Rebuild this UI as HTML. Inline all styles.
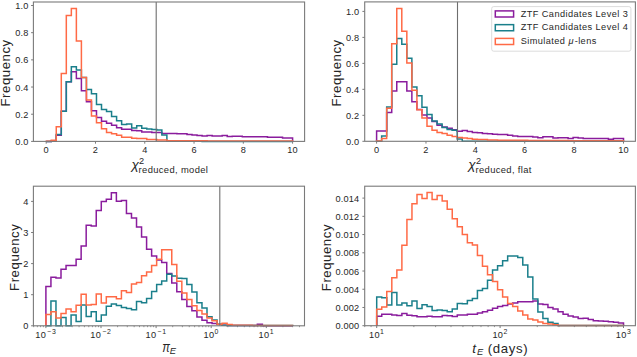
<!DOCTYPE html><html><head><meta charset="utf-8"><style>html,body{margin:0;padding:0;background:#fff;width:637px;height:357px;overflow:hidden}</style></head><body><svg width="637" height="357" viewBox="0 0 637 357" style="display:block;font-family:'Liberation Sans', sans-serif"><rect width="637" height="357" fill="#ffffff"/><path d="M46.20 141.40L46.20 141.40L51.23 141.40L51.23 141.20L56.26 141.20L56.26 135.20L61.29 135.20L61.29 111.30L66.31 111.30L66.31 81.80L71.34 81.80L71.34 71.80L76.37 71.80L76.37 78.50L81.40 78.50L81.40 90.70L86.43 90.70L86.43 101.80L91.46 101.80L91.46 110.80L96.49 110.80L96.49 117.40L101.51 117.40L101.51 121.20L106.54 121.20L106.54 123.30L111.57 123.30L111.57 125.20L116.60 125.20L116.60 127.80L121.63 127.80L121.63 129.30L126.66 129.30L126.66 129.30L131.69 129.30L131.69 130.60L136.71 130.60L136.71 130.80L141.74 130.80L141.74 131.90L146.77 131.90L146.77 131.90L151.80 131.90L151.80 132.50L156.83 132.50L156.83 132.50L161.86 132.50L161.86 133.60L166.89 133.60L166.89 133.40L171.91 133.40L171.91 133.40L176.94 133.40L176.94 133.70L181.97 133.70L181.97 133.70L187.00 133.70L187.00 134.40L192.03 134.40L192.03 134.90L197.06 134.90L197.06 135.40L202.09 135.40L202.09 136.10L207.11 136.10L207.11 135.40L212.14 135.40L212.14 135.90L217.17 135.90L217.17 135.90L222.20 135.90L222.20 135.40L227.23 135.40L227.23 136.40L232.26 136.40L232.26 136.20L237.29 136.20L237.29 136.20L242.31 136.20L242.31 136.80L247.34 136.80L247.34 136.80L252.37 136.80L252.37 136.80L257.40 136.80L257.40 136.80L262.43 136.80L262.43 136.80L267.46 136.80L267.46 137.30L272.49 137.30L272.49 137.30L277.51 137.30L277.51 137.30L282.54 137.30L282.54 137.90L287.57 137.90L287.57 137.90L292.60 137.90L292.60 141.40" fill="none" stroke="#8a1c9d" stroke-width="1.50" stroke-linejoin="miter"/><path d="M46.20 141.40L46.20 141.40L51.23 141.40L51.23 141.00L56.26 141.00L56.26 134.50L61.29 134.50L61.29 111.30L66.31 111.30L66.31 81.80L71.34 81.80L71.34 66.70L76.37 66.70L76.37 70.00L81.40 70.00L81.40 77.50L86.43 77.50L86.43 89.60L91.46 89.60L91.46 93.70L96.49 93.70L96.49 104.50L101.51 104.50L101.51 109.50L106.54 109.50L106.54 111.50L111.57 111.50L111.57 116.40L116.60 116.40L116.60 120.80L121.63 120.80L121.63 124.60L126.66 124.60L126.66 124.00L131.69 124.00L131.69 128.00L136.71 128.00L136.71 125.70L141.74 125.70L141.74 128.30L146.77 128.30L146.77 129.10L151.80 129.10L151.80 129.60L156.83 129.60L156.83 129.90L161.86 129.90L161.86 135.00L166.89 135.00L166.89 141.10L171.91 141.10L171.91 141.10L176.94 141.10L176.94 141.10L181.97 141.10L181.97 141.10L187.00 141.10L187.00 141.10L192.03 141.10L192.03 141.10L197.06 141.10L197.06 141.10L202.09 141.10L202.09 141.40L207.11 141.40L207.11 141.40L212.14 141.40L212.14 141.40L217.17 141.40L217.17 141.40L222.20 141.40L222.20 141.40L227.23 141.40L227.23 141.40L232.26 141.40L232.26 141.40L237.29 141.40L237.29 141.40L242.31 141.40L242.31 141.40L247.34 141.40L247.34 141.40L252.37 141.40L252.37 141.40L257.40 141.40L257.40 141.40L262.43 141.40L262.43 141.40L267.46 141.40L267.46 141.40L272.49 141.40L272.49 141.40L277.51 141.40L277.51 141.40L282.54 141.40L282.54 141.40L287.57 141.40L287.57 141.40L292.60 141.40L292.60 141.40" fill="none" stroke="#1a7f8b" stroke-width="1.50" stroke-linejoin="miter"/><path d="M46.20 141.40L46.20 141.20L51.23 141.20L51.23 140.30L56.26 140.30L56.26 126.80L61.29 126.80L61.29 73.60L66.31 73.60L66.31 15.50L71.34 15.50L71.34 8.40L76.37 8.40L76.37 41.10L81.40 41.10L81.40 77.50L86.43 77.50L86.43 99.90L91.46 99.90L91.46 115.90L96.49 115.90L96.49 122.70L101.51 122.70L101.51 128.80L106.54 128.80L106.54 132.60L111.57 132.60L111.57 133.80L116.60 133.80L116.60 135.30L121.63 135.30L121.63 137.20L126.66 137.20L126.66 137.20L131.69 137.20L131.69 138.20L136.71 138.20L136.71 138.60L141.74 138.60L141.74 138.60L146.77 138.60L146.77 139.50L151.80 139.50L151.80 139.50L156.83 139.50L156.83 140.00L161.86 140.00L161.86 140.00L166.89 140.00L166.89 140.70L171.91 140.70L171.91 140.70L176.94 140.70L176.94 140.70L181.97 140.70L181.97 140.70L187.00 140.70L187.00 140.70L192.03 140.70L192.03 140.70L197.06 140.70L197.06 140.70L202.09 140.70L202.09 140.70L207.11 140.70L207.11 141.00L212.14 141.00L212.14 141.00L217.17 141.00L217.17 141.00L222.20 141.00L222.20 141.00L227.23 141.00L227.23 141.00L232.26 141.00L232.26 141.00L237.29 141.00L237.29 141.00L242.31 141.00L242.31 141.00L247.34 141.00L247.34 141.00L252.37 141.00L252.37 141.10L257.40 141.10L257.40 141.10L262.43 141.10L262.43 141.10L267.46 141.10L267.46 141.10L272.49 141.10L272.49 141.10L277.51 141.10L277.51 141.10L282.54 141.10L282.54 141.10L287.57 141.10L287.57 141.10L292.60 141.10L292.60 141.40" fill="none" stroke="#ff6a46" stroke-width="1.50" stroke-linejoin="miter"/><line x1="156.20" y1="2.00" x2="156.20" y2="141.40" stroke="#6e6e6e" stroke-width="1.1"/><rect x="33.40" y="2.00" width="271.20" height="139.40" fill="none" stroke="#7a7a7a" stroke-width="1.1"/><line x1="46.20" y1="141.40" x2="46.20" y2="143.70" stroke="#7a7a7a" stroke-width="1.00"/><text x="46.20" y="152.80" font-size="9.20" text-anchor="middle" letter-spacing="0.15" fill="#262626" >0</text><line x1="95.48" y1="141.40" x2="95.48" y2="143.70" stroke="#7a7a7a" stroke-width="1.00"/><text x="95.48" y="152.80" font-size="9.20" text-anchor="middle" letter-spacing="0.15" fill="#262626" >2</text><line x1="144.76" y1="141.40" x2="144.76" y2="143.70" stroke="#7a7a7a" stroke-width="1.00"/><text x="144.76" y="152.80" font-size="9.20" text-anchor="middle" letter-spacing="0.15" fill="#262626" >4</text><line x1="194.04" y1="141.40" x2="194.04" y2="143.70" stroke="#7a7a7a" stroke-width="1.00"/><text x="194.04" y="152.80" font-size="9.20" text-anchor="middle" letter-spacing="0.15" fill="#262626" >6</text><line x1="243.32" y1="141.40" x2="243.32" y2="143.70" stroke="#7a7a7a" stroke-width="1.00"/><text x="243.32" y="152.80" font-size="9.20" text-anchor="middle" letter-spacing="0.15" fill="#262626" >8</text><line x1="292.60" y1="141.40" x2="292.60" y2="143.70" stroke="#7a7a7a" stroke-width="1.00"/><text x="292.60" y="152.80" font-size="9.20" text-anchor="middle" letter-spacing="0.15" fill="#262626" >10</text><line x1="31.10" y1="141.40" x2="33.40" y2="141.40" stroke="#7a7a7a" stroke-width="1.0"/><text x="28.60" y="145.00" font-size="9.20" text-anchor="end" letter-spacing="0.15" fill="#262626" >0.0</text><line x1="31.10" y1="114.22" x2="33.40" y2="114.22" stroke="#7a7a7a" stroke-width="1.0"/><text x="28.60" y="117.82" font-size="9.20" text-anchor="end" letter-spacing="0.15" fill="#262626" >0.2</text><line x1="31.10" y1="87.04" x2="33.40" y2="87.04" stroke="#7a7a7a" stroke-width="1.0"/><text x="28.60" y="90.64" font-size="9.20" text-anchor="end" letter-spacing="0.15" fill="#262626" >0.4</text><line x1="31.10" y1="59.86" x2="33.40" y2="59.86" stroke="#7a7a7a" stroke-width="1.0"/><text x="28.60" y="63.46" font-size="9.20" text-anchor="end" letter-spacing="0.15" fill="#262626" >0.6</text><line x1="31.10" y1="32.68" x2="33.40" y2="32.68" stroke="#7a7a7a" stroke-width="1.0"/><text x="28.60" y="36.28" font-size="9.20" text-anchor="end" letter-spacing="0.15" fill="#262626" >0.8</text><line x1="31.10" y1="5.50" x2="33.40" y2="5.50" stroke="#7a7a7a" stroke-width="1.0"/><text x="28.60" y="9.10" font-size="9.20" text-anchor="end" letter-spacing="0.15" fill="#262626" >1.0</text><path d="M376.60 141.30L376.60 130.90L381.64 130.90L381.64 130.90L386.68 130.90L386.68 112.60L391.72 112.60L391.72 91.10L396.76 91.10L396.76 81.80L401.79 81.80L401.79 81.70L406.83 81.70L406.83 91.00L411.87 91.00L411.87 101.80L416.91 101.80L416.91 109.40L421.95 109.40L421.95 115.00L426.99 115.00L426.99 117.90L432.03 117.90L432.03 121.50L437.07 121.50L437.07 125.20L442.10 125.20L442.10 126.90L447.14 126.90L447.14 128.20L452.18 128.20L452.18 129.70L457.22 129.70L457.22 131.20L462.26 131.20L462.26 130.60L467.30 130.60L467.30 131.40L472.34 131.40L472.34 132.40L477.38 132.40L477.38 132.70L482.41 132.70L482.41 133.50L487.45 133.50L487.45 133.70L492.49 133.70L492.49 134.30L497.53 134.30L497.53 134.60L502.57 134.60L502.57 134.60L507.61 134.60L507.61 135.30L512.65 135.30L512.65 135.90L517.69 135.90L517.69 136.40L522.72 136.40L522.72 136.40L527.76 136.40L527.76 136.40L532.80 136.40L532.80 137.00L537.84 137.00L537.84 137.70L542.88 137.70L542.88 136.80L547.92 136.80L547.92 136.80L552.96 136.80L552.96 137.90L558.00 137.90L558.00 137.70L563.03 137.70L563.03 137.70L568.07 137.70L568.07 138.40L573.11 138.40L573.11 137.50L578.15 137.50L578.15 138.10L583.19 138.10L583.19 138.60L588.23 138.60L588.23 138.60L593.27 138.60L593.27 138.60L598.31 138.60L598.31 138.60L603.34 138.60L603.34 138.60L608.38 138.60L608.38 139.20L613.42 139.20L613.42 138.40L618.46 138.40L618.46 138.60L623.50 138.60L623.50 141.30" fill="none" stroke="#8a1c9d" stroke-width="1.50" stroke-linejoin="miter"/><path d="M376.60 141.30L376.60 141.20L381.64 141.20L381.64 136.00L386.68 136.00L386.68 106.90L391.72 106.90L391.72 64.30L396.76 64.30L396.76 38.40L401.79 38.40L401.79 44.30L406.83 44.30L406.83 58.20L411.87 58.20L411.87 87.00L416.91 87.00L416.91 95.70L421.95 95.70L421.95 107.20L426.99 107.20L426.99 114.60L432.03 114.60L432.03 121.00L437.07 121.00L437.07 124.10L442.10 124.10L442.10 127.50L447.14 127.50L447.14 129.40L452.18 129.40L452.18 130.20L457.22 130.20L457.22 138.90L462.26 138.90L462.26 141.30L467.30 141.30L467.30 141.30L472.34 141.30L472.34 141.30L477.38 141.30L477.38 141.30L482.41 141.30L482.41 141.30L487.45 141.30L487.45 141.30L492.49 141.30L492.49 141.30L497.53 141.30L497.53 141.30L502.57 141.30L502.57 141.30L507.61 141.30L507.61 141.30L512.65 141.30L512.65 141.30L517.69 141.30L517.69 141.30L522.72 141.30L522.72 141.30L527.76 141.30L527.76 141.30L532.80 141.30L532.80 141.30L537.84 141.30L537.84 141.30L542.88 141.30L542.88 141.30L547.92 141.30L547.92 141.30L552.96 141.30L552.96 141.30L558.00 141.30L558.00 141.30L563.03 141.30L563.03 141.30L568.07 141.30L568.07 141.30L573.11 141.30L573.11 141.30L578.15 141.30L578.15 141.30L583.19 141.30L583.19 141.30L588.23 141.30L588.23 141.30L593.27 141.30L593.27 141.30L598.31 141.30L598.31 141.30L603.34 141.30L603.34 141.30L608.38 141.30L608.38 141.30L613.42 141.30L613.42 141.30L618.46 141.30L618.46 141.30L623.50 141.30L623.50 141.30" fill="none" stroke="#1a7f8b" stroke-width="1.50" stroke-linejoin="miter"/><path d="M376.60 141.30L376.60 141.00L381.64 141.00L381.64 138.50L386.68 138.50L386.68 108.20L391.72 108.20L391.72 43.70L396.76 43.70L396.76 8.40L401.79 8.40L401.79 31.20L406.83 31.20L406.83 63.00L411.87 63.00L411.87 90.30L416.91 90.30L416.91 109.70L421.95 109.70L421.95 118.00L426.99 118.00L426.99 126.30L432.03 126.30L432.03 130.30L437.07 130.30L437.07 132.50L442.10 132.50L442.10 133.60L447.14 133.60L447.14 135.30L452.18 135.30L452.18 136.40L457.22 136.40L457.22 137.40L462.26 137.40L462.26 137.90L467.30 137.90L467.30 138.60L472.34 138.60L472.34 139.20L477.38 139.20L477.38 139.40L482.41 139.40L482.41 139.60L487.45 139.60L487.45 139.90L492.49 139.90L492.49 139.90L497.53 139.90L497.53 140.30L502.57 140.30L502.57 140.30L507.61 140.30L507.61 140.30L512.65 140.30L512.65 140.30L517.69 140.30L517.69 140.30L522.72 140.30L522.72 140.30L527.76 140.30L527.76 140.60L532.80 140.60L532.80 140.60L537.84 140.60L537.84 140.60L542.88 140.60L542.88 140.60L547.92 140.60L547.92 140.60L552.96 140.60L552.96 140.60L558.00 140.60L558.00 140.60L563.03 140.60L563.03 140.60L568.07 140.60L568.07 140.80L573.11 140.80L573.11 140.80L578.15 140.80L578.15 140.80L583.19 140.80L583.19 140.80L588.23 140.80L588.23 140.80L593.27 140.80L593.27 140.80L598.31 140.80L598.31 140.80L603.34 140.80L603.34 140.80L608.38 140.80L608.38 140.80L613.42 140.80L613.42 140.80L618.46 140.80L618.46 140.80L623.50 140.80L623.50 141.30" fill="none" stroke="#ff6a46" stroke-width="1.50" stroke-linejoin="miter"/><line x1="457.50" y1="1.90" x2="457.50" y2="141.30" stroke="#6e6e6e" stroke-width="1.1"/><rect x="364.70" y="1.90" width="270.70" height="139.40" fill="none" stroke="#7a7a7a" stroke-width="1.1"/><line x1="376.60" y1="141.30" x2="376.60" y2="143.60" stroke="#7a7a7a" stroke-width="1.00"/><text x="376.60" y="152.70" font-size="9.20" text-anchor="middle" letter-spacing="0.15" fill="#262626" >0</text><line x1="425.98" y1="141.30" x2="425.98" y2="143.60" stroke="#7a7a7a" stroke-width="1.00"/><text x="425.98" y="152.70" font-size="9.20" text-anchor="middle" letter-spacing="0.15" fill="#262626" >2</text><line x1="475.36" y1="141.30" x2="475.36" y2="143.60" stroke="#7a7a7a" stroke-width="1.00"/><text x="475.36" y="152.70" font-size="9.20" text-anchor="middle" letter-spacing="0.15" fill="#262626" >4</text><line x1="524.74" y1="141.30" x2="524.74" y2="143.60" stroke="#7a7a7a" stroke-width="1.00"/><text x="524.74" y="152.70" font-size="9.20" text-anchor="middle" letter-spacing="0.15" fill="#262626" >6</text><line x1="574.12" y1="141.30" x2="574.12" y2="143.60" stroke="#7a7a7a" stroke-width="1.00"/><text x="574.12" y="152.70" font-size="9.20" text-anchor="middle" letter-spacing="0.15" fill="#262626" >8</text><line x1="623.50" y1="141.30" x2="623.50" y2="143.60" stroke="#7a7a7a" stroke-width="1.00"/><text x="623.50" y="152.70" font-size="9.20" text-anchor="middle" letter-spacing="0.15" fill="#262626" >10</text><line x1="362.40" y1="141.30" x2="364.70" y2="141.30" stroke="#7a7a7a" stroke-width="1.0"/><text x="359.20" y="144.90" font-size="9.20" text-anchor="end" letter-spacing="0.15" fill="#262626" >0.0</text><line x1="362.40" y1="115.32" x2="364.70" y2="115.32" stroke="#7a7a7a" stroke-width="1.0"/><text x="359.20" y="118.92" font-size="9.20" text-anchor="end" letter-spacing="0.15" fill="#262626" >0.2</text><line x1="362.40" y1="89.34" x2="364.70" y2="89.34" stroke="#7a7a7a" stroke-width="1.0"/><text x="359.20" y="92.94" font-size="9.20" text-anchor="end" letter-spacing="0.15" fill="#262626" >0.4</text><line x1="362.40" y1="63.36" x2="364.70" y2="63.36" stroke="#7a7a7a" stroke-width="1.0"/><text x="359.20" y="66.96" font-size="9.20" text-anchor="end" letter-spacing="0.15" fill="#262626" >0.6</text><line x1="362.40" y1="37.38" x2="364.70" y2="37.38" stroke="#7a7a7a" stroke-width="1.0"/><text x="359.20" y="40.98" font-size="9.20" text-anchor="end" letter-spacing="0.15" fill="#262626" >0.8</text><line x1="362.40" y1="11.40" x2="364.70" y2="11.40" stroke="#7a7a7a" stroke-width="1.0"/><text x="359.20" y="15.00" font-size="9.20" text-anchor="end" letter-spacing="0.15" fill="#262626" >1.0</text><path d="M45.90 325.80L45.90 286.60L50.93 286.60L50.93 277.20L55.97 277.20L55.97 278.00L61.00 278.00L61.00 269.30L66.04 269.30L66.04 265.60L71.07 265.60L71.07 265.60L76.11 265.60L76.11 259.30L81.14 259.30L81.14 246.00L86.18 246.00L86.18 225.20L91.21 225.20L91.21 225.90L96.24 225.90L96.24 210.50L101.28 210.50L101.28 201.50L106.31 201.50L106.31 199.20L111.35 199.20L111.35 192.80L116.38 192.80L116.38 201.20L121.42 201.20L121.42 200.50L126.45 200.50L126.45 213.60L131.49 213.60L131.49 218.00L136.52 218.00L136.52 227.00L141.56 227.00L141.56 236.90L146.59 236.90L146.59 249.20L151.62 249.20L151.62 255.90L156.66 255.90L156.66 260.00L161.69 260.00L161.69 262.40L166.73 262.40L166.73 273.60L171.76 273.60L171.76 282.90L176.80 282.90L176.80 291.80L181.83 291.80L181.83 299.40L186.87 299.40L186.87 306.60L191.90 306.60L191.90 310.70L196.93 310.70L196.93 317.10L201.97 317.10L201.97 320.30L207.00 320.30L207.00 322.70L212.04 322.70L212.04 323.50L217.07 323.50L217.07 324.60L222.11 324.60L222.11 325.20L227.14 325.20L227.14 325.60L232.18 325.60L232.18 325.60L237.21 325.60L237.21 325.60L242.24 325.60L242.24 325.60L247.28 325.60L247.28 325.60L252.31 325.60L252.31 325.60L257.35 325.60L257.35 324.30L262.38 324.30L262.38 325.70L267.42 325.70L267.42 325.70L272.45 325.70L272.45 325.70L277.49 325.70L277.49 325.70L282.52 325.70L282.52 325.70L287.55 325.70L287.55 325.70L292.59 325.70L292.59 325.80" fill="none" stroke="#8a1c9d" stroke-width="1.50" stroke-linejoin="miter"/><path d="M45.90 325.80L45.90 325.80L50.93 325.80L50.93 300.90L55.97 300.90L55.97 325.80L61.00 325.80L61.00 317.50L66.04 317.50L66.04 325.80L71.07 325.80L71.07 315.00L76.11 315.00L76.11 321.40L81.14 321.40L81.14 304.90L86.18 304.90L86.18 316.60L91.21 316.60L91.21 311.80L96.24 311.80L96.24 321.20L101.28 321.20L101.28 315.00L106.31 315.00L106.31 306.20L111.35 306.20L111.35 303.90L116.38 303.90L116.38 305.50L121.42 305.50L121.42 307.60L126.45 307.60L126.45 308.40L131.49 308.40L131.49 309.80L136.52 309.80L136.52 301.60L141.56 301.60L141.56 302.80L146.59 302.80L146.59 298.60L151.62 298.60L151.62 291.60L156.66 291.60L156.66 284.60L161.69 284.60L161.69 280.90L166.73 280.90L166.73 274.20L171.76 274.20L171.76 276.00L176.80 276.00L176.80 278.20L181.83 278.20L181.83 278.40L186.87 278.40L186.87 284.60L191.90 284.60L191.90 292.00L196.93 292.00L196.93 302.70L201.97 302.70L201.97 307.90L207.00 307.90L207.00 316.80L212.04 316.80L212.04 320.00L217.07 320.00L217.07 324.30L222.11 324.30L222.11 325.30L227.14 325.30L227.14 325.60L232.18 325.60L232.18 325.60L237.21 325.60L237.21 325.60L242.24 325.60L242.24 325.60L247.28 325.60L247.28 325.60L252.31 325.60L252.31 325.60L257.35 325.60L257.35 325.60L262.38 325.60L262.38 325.60L267.42 325.60L267.42 325.60L272.45 325.60L272.45 325.60L277.49 325.60L277.49 325.60L282.52 325.60L282.52 325.60L287.55 325.60L287.55 325.60L292.59 325.60L292.59 325.80" fill="none" stroke="#1a7f8b" stroke-width="1.50" stroke-linejoin="miter"/><path d="M45.90 325.80L45.90 314.40L50.93 314.40L50.93 311.80L55.97 311.80L55.97 318.00L61.00 318.00L61.00 313.50L66.04 313.50L66.04 309.00L71.07 309.00L71.07 311.80L76.11 311.80L76.11 305.30L81.14 305.30L81.14 294.30L86.18 294.30L86.18 304.90L91.21 304.90L91.21 304.40L96.24 304.40L96.24 294.00L101.28 294.00L101.28 302.90L106.31 302.90L106.31 296.80L111.35 296.80L111.35 296.80L116.38 296.80L116.38 298.80L121.42 298.80L121.42 290.80L126.45 290.80L126.45 292.50L131.49 292.50L131.49 283.90L136.52 283.90L136.52 282.50L141.56 282.50L141.56 275.70L146.59 275.70L146.59 271.90L151.62 271.90L151.62 265.60L156.66 265.60L156.66 259.30L161.69 259.30L161.69 249.80L166.73 249.80L166.73 249.80L171.76 249.80L171.76 264.40L176.80 264.40L176.80 281.20L181.83 281.20L181.83 292.90L186.87 292.90L186.87 299.40L191.90 299.40L191.90 305.70L196.93 305.70L196.93 310.40L201.97 310.40L201.97 314.10L207.00 314.10L207.00 318.00L212.04 318.00L212.04 320.80L217.07 320.80L217.07 324.20L222.11 324.20L222.11 323.20L227.14 323.20L227.14 324.60L232.18 324.60L232.18 325.30L237.21 325.30L237.21 325.30L242.24 325.30L242.24 325.30L247.28 325.30L247.28 325.30L252.31 325.30L252.31 325.50L257.35 325.50L257.35 325.50L262.38 325.50L262.38 325.50L267.42 325.50L267.42 325.50L272.45 325.50L272.45 325.50L277.49 325.50L277.49 325.50L282.52 325.50L282.52 325.50L287.55 325.50L287.55 325.50L292.59 325.50L292.59 325.80" fill="none" stroke="#ff6a46" stroke-width="1.50" stroke-linejoin="miter"/><line x1="219.80" y1="186.20" x2="219.80" y2="325.80" stroke="#6e6e6e" stroke-width="1.1"/><rect x="33.40" y="186.20" width="271.10" height="139.60" fill="none" stroke="#7a7a7a" stroke-width="1.1"/><line x1="33.68" y1="325.80" x2="33.68" y2="327.20" stroke="#7a7a7a" stroke-width="0.80"/><line x1="37.36" y1="325.80" x2="37.36" y2="327.20" stroke="#7a7a7a" stroke-width="0.80"/><line x1="40.56" y1="325.80" x2="40.56" y2="327.20" stroke="#7a7a7a" stroke-width="0.80"/><line x1="43.38" y1="325.80" x2="43.38" y2="327.20" stroke="#7a7a7a" stroke-width="0.80"/><line x1="62.49" y1="325.80" x2="62.49" y2="327.20" stroke="#7a7a7a" stroke-width="0.80"/><line x1="72.19" y1="325.80" x2="72.19" y2="327.20" stroke="#7a7a7a" stroke-width="0.80"/><line x1="79.07" y1="325.80" x2="79.07" y2="327.20" stroke="#7a7a7a" stroke-width="0.80"/><line x1="84.41" y1="325.80" x2="84.41" y2="327.20" stroke="#7a7a7a" stroke-width="0.80"/><line x1="88.78" y1="325.80" x2="88.78" y2="327.20" stroke="#7a7a7a" stroke-width="0.80"/><line x1="92.46" y1="325.80" x2="92.46" y2="327.20" stroke="#7a7a7a" stroke-width="0.80"/><line x1="95.66" y1="325.80" x2="95.66" y2="327.20" stroke="#7a7a7a" stroke-width="0.80"/><line x1="98.48" y1="325.80" x2="98.48" y2="327.20" stroke="#7a7a7a" stroke-width="0.80"/><line x1="117.59" y1="325.80" x2="117.59" y2="327.20" stroke="#7a7a7a" stroke-width="0.80"/><line x1="127.29" y1="325.80" x2="127.29" y2="327.20" stroke="#7a7a7a" stroke-width="0.80"/><line x1="134.17" y1="325.80" x2="134.17" y2="327.20" stroke="#7a7a7a" stroke-width="0.80"/><line x1="139.51" y1="325.80" x2="139.51" y2="327.20" stroke="#7a7a7a" stroke-width="0.80"/><line x1="143.88" y1="325.80" x2="143.88" y2="327.20" stroke="#7a7a7a" stroke-width="0.80"/><line x1="147.56" y1="325.80" x2="147.56" y2="327.20" stroke="#7a7a7a" stroke-width="0.80"/><line x1="150.76" y1="325.80" x2="150.76" y2="327.20" stroke="#7a7a7a" stroke-width="0.80"/><line x1="153.58" y1="325.80" x2="153.58" y2="327.20" stroke="#7a7a7a" stroke-width="0.80"/><line x1="172.69" y1="325.80" x2="172.69" y2="327.20" stroke="#7a7a7a" stroke-width="0.80"/><line x1="182.39" y1="325.80" x2="182.39" y2="327.20" stroke="#7a7a7a" stroke-width="0.80"/><line x1="189.27" y1="325.80" x2="189.27" y2="327.20" stroke="#7a7a7a" stroke-width="0.80"/><line x1="194.61" y1="325.80" x2="194.61" y2="327.20" stroke="#7a7a7a" stroke-width="0.80"/><line x1="198.98" y1="325.80" x2="198.98" y2="327.20" stroke="#7a7a7a" stroke-width="0.80"/><line x1="202.66" y1="325.80" x2="202.66" y2="327.20" stroke="#7a7a7a" stroke-width="0.80"/><line x1="205.86" y1="325.80" x2="205.86" y2="327.20" stroke="#7a7a7a" stroke-width="0.80"/><line x1="208.68" y1="325.80" x2="208.68" y2="327.20" stroke="#7a7a7a" stroke-width="0.80"/><line x1="227.79" y1="325.80" x2="227.79" y2="327.20" stroke="#7a7a7a" stroke-width="0.80"/><line x1="237.49" y1="325.80" x2="237.49" y2="327.20" stroke="#7a7a7a" stroke-width="0.80"/><line x1="244.37" y1="325.80" x2="244.37" y2="327.20" stroke="#7a7a7a" stroke-width="0.80"/><line x1="249.71" y1="325.80" x2="249.71" y2="327.20" stroke="#7a7a7a" stroke-width="0.80"/><line x1="254.08" y1="325.80" x2="254.08" y2="327.20" stroke="#7a7a7a" stroke-width="0.80"/><line x1="257.76" y1="325.80" x2="257.76" y2="327.20" stroke="#7a7a7a" stroke-width="0.80"/><line x1="260.96" y1="325.80" x2="260.96" y2="327.20" stroke="#7a7a7a" stroke-width="0.80"/><line x1="263.78" y1="325.80" x2="263.78" y2="327.20" stroke="#7a7a7a" stroke-width="0.80"/><line x1="282.89" y1="325.80" x2="282.89" y2="327.20" stroke="#7a7a7a" stroke-width="0.80"/><line x1="292.59" y1="325.80" x2="292.59" y2="327.20" stroke="#7a7a7a" stroke-width="0.80"/><line x1="299.47" y1="325.80" x2="299.47" y2="327.20" stroke="#7a7a7a" stroke-width="0.80"/><line x1="45.90" y1="325.80" x2="45.90" y2="328.10" stroke="#7a7a7a" stroke-width="1.00"/><text x="46.10" y="337.50" font-size="9.20" text-anchor="end" letter-spacing="0.30" fill="#262626" >10</text><text x="47.10" y="334.00" font-size="6.90" text-anchor="start" letter-spacing="0.90" fill="#262626" >&#8722;3</text><line x1="101.00" y1="325.80" x2="101.00" y2="328.10" stroke="#7a7a7a" stroke-width="1.00"/><text x="101.20" y="337.50" font-size="9.20" text-anchor="end" letter-spacing="0.30" fill="#262626" >10</text><text x="102.20" y="334.00" font-size="6.90" text-anchor="start" letter-spacing="0.90" fill="#262626" >&#8722;2</text><line x1="156.10" y1="325.80" x2="156.10" y2="328.10" stroke="#7a7a7a" stroke-width="1.00"/><text x="156.30" y="337.50" font-size="9.20" text-anchor="end" letter-spacing="0.30" fill="#262626" >10</text><text x="157.30" y="334.00" font-size="6.90" text-anchor="start" letter-spacing="0.90" fill="#262626" >&#8722;1</text><line x1="211.20" y1="325.80" x2="211.20" y2="328.10" stroke="#7a7a7a" stroke-width="1.00"/><text x="208.90" y="337.50" font-size="9.20" text-anchor="middle" letter-spacing="0.30" fill="#262626" >10</text><text x="214.60" y="334.00" font-size="6.90" text-anchor="start" letter-spacing="0.10" fill="#262626" >0</text><line x1="266.30" y1="325.80" x2="266.30" y2="328.10" stroke="#7a7a7a" stroke-width="1.00"/><text x="264.00" y="337.50" font-size="9.20" text-anchor="middle" letter-spacing="0.30" fill="#262626" >10</text><text x="269.70" y="334.00" font-size="6.90" text-anchor="start" letter-spacing="0.10" fill="#262626" >1</text><line x1="31.10" y1="325.80" x2="33.40" y2="325.80" stroke="#7a7a7a" stroke-width="1.0"/><text x="28.60" y="329.40" font-size="9.20" text-anchor="end" letter-spacing="0.15" fill="#262626" >0</text><line x1="31.10" y1="294.70" x2="33.40" y2="294.70" stroke="#7a7a7a" stroke-width="1.0"/><text x="28.60" y="298.30" font-size="9.20" text-anchor="end" letter-spacing="0.15" fill="#262626" >1</text><line x1="31.10" y1="263.60" x2="33.40" y2="263.60" stroke="#7a7a7a" stroke-width="1.0"/><text x="28.60" y="267.20" font-size="9.20" text-anchor="end" letter-spacing="0.15" fill="#262626" >2</text><line x1="31.10" y1="232.50" x2="33.40" y2="232.50" stroke="#7a7a7a" stroke-width="1.0"/><text x="28.60" y="236.10" font-size="9.20" text-anchor="end" letter-spacing="0.15" fill="#262626" >3</text><line x1="31.10" y1="201.40" x2="33.40" y2="201.40" stroke="#7a7a7a" stroke-width="1.0"/><text x="28.60" y="205.00" font-size="9.20" text-anchor="end" letter-spacing="0.15" fill="#262626" >4</text><path d="M376.70 325.70L376.70 316.30L381.74 316.30L381.74 314.20L386.77 314.20L386.77 314.20L391.81 314.20L391.81 314.90L396.85 314.90L396.85 315.40L401.88 315.40L401.88 313.50L406.92 313.50L406.92 315.30L411.96 315.30L411.96 315.70L416.99 315.70L416.99 316.70L422.03 316.70L422.03 316.70L427.07 316.70L427.07 316.30L432.10 316.30L432.10 316.70L437.14 316.70L437.14 316.70L442.18 316.70L442.18 315.60L447.21 315.60L447.21 315.80L452.25 315.80L452.25 316.60L457.29 316.60L457.29 315.00L462.32 315.00L462.32 315.00L467.36 315.00L467.36 314.30L472.40 314.30L472.40 314.30L477.43 314.30L477.43 313.00L482.47 313.00L482.47 311.70L487.51 311.70L487.51 310.20L492.54 310.20L492.54 308.20L497.58 308.20L497.58 306.60L502.62 306.60L502.62 305.50L507.66 305.50L507.66 304.10L512.69 304.10L512.69 303.10L517.73 303.10L517.73 301.70L522.77 301.70L522.77 301.70L527.80 301.70L527.80 301.70L532.84 301.70L532.84 301.00L537.88 301.00L537.88 303.90L542.91 303.90L542.91 304.50L547.95 304.50L547.95 307.40L552.99 307.40L552.99 308.90L558.02 308.90L558.02 311.70L563.06 311.70L563.06 314.20L568.10 314.20L568.10 315.90L573.13 315.90L573.13 317.10L578.17 317.10L578.17 318.50L583.21 318.50L583.21 318.30L588.24 318.30L588.24 319.50L593.28 319.50L593.28 320.70L598.32 320.70L598.32 321.00L603.35 321.00L603.35 321.30L608.39 321.30L608.39 321.70L613.43 321.70L613.43 322.30L618.46 322.30L618.46 322.90L623.50 322.90L623.50 325.70" fill="none" stroke="#8a1c9d" stroke-width="1.50" stroke-linejoin="miter"/><path d="M376.70 325.70L376.70 297.00L381.74 297.00L381.74 297.70L386.77 297.70L386.77 304.90L391.81 304.90L391.81 292.50L396.85 292.50L396.85 304.90L401.88 304.90L401.88 302.90L406.92 302.90L406.92 305.80L411.96 305.80L411.96 301.00L416.99 301.00L416.99 308.60L422.03 308.60L422.03 304.70L427.07 304.70L427.07 306.50L432.10 306.50L432.10 310.40L437.14 310.40L437.14 310.10L442.18 310.10L442.18 310.50L447.21 310.50L447.21 311.70L452.25 311.70L452.25 309.10L457.29 309.10L457.29 303.50L462.32 303.50L462.32 303.80L467.36 303.80L467.36 300.50L472.40 300.50L472.40 298.40L477.43 298.40L477.43 290.60L482.47 290.60L482.47 288.60L487.51 288.60L487.51 280.20L492.54 280.20L492.54 269.90L497.58 269.90L497.58 265.70L502.62 265.70L502.62 260.70L507.66 260.70L507.66 256.10L512.69 256.10L512.69 256.10L517.73 256.10L517.73 257.50L522.77 257.50L522.77 264.90L527.80 264.90L527.80 277.10L532.84 277.10L532.84 299.00L537.88 299.00L537.88 312.10L542.91 312.10L542.91 318.40L547.95 318.40L547.95 322.20L552.99 322.20L552.99 323.40L558.02 323.40L558.02 325.50L563.06 325.50L563.06 325.50L568.10 325.50L568.10 325.50L573.13 325.50L573.13 325.50L578.17 325.50L578.17 325.50L583.21 325.50L583.21 325.50L588.24 325.50L588.24 325.50L593.28 325.50L593.28 325.50L598.32 325.50L598.32 325.50L603.35 325.50L603.35 325.50L608.39 325.50L608.39 325.50L613.43 325.50L613.43 325.50L618.46 325.50L618.46 325.50L623.50 325.50L623.50 325.70" fill="none" stroke="#1a7f8b" stroke-width="1.50" stroke-linejoin="miter"/><path d="M376.70 325.70L376.70 309.30L381.74 309.30L381.74 306.90L386.77 306.90L386.77 291.60L391.81 291.60L391.81 277.80L396.85 277.80L396.85 270.00L401.88 270.00L401.88 245.30L406.92 245.30L406.92 219.50L411.96 219.50L411.96 203.70L416.99 203.70L416.99 194.40L422.03 194.40L422.03 198.50L427.07 198.50L427.07 192.60L432.10 192.60L432.10 199.40L437.14 199.40L437.14 195.40L442.18 195.40L442.18 201.00L447.21 201.00L447.21 209.20L452.25 209.20L452.25 218.80L457.29 218.80L457.29 226.80L462.32 226.80L462.32 234.40L467.36 234.40L467.36 242.80L472.40 242.80L472.40 245.00L477.43 245.00L477.43 255.50L482.47 255.50L482.47 266.30L487.51 266.30L487.51 274.80L492.54 274.80L492.54 281.50L497.58 281.50L497.58 289.80L502.62 289.80L502.62 297.10L507.66 297.10L507.66 303.50L512.69 303.50L512.69 306.60L517.73 306.60L517.73 311.10L522.77 311.10L522.77 315.00L527.80 315.00L527.80 318.90L532.84 318.90L532.84 320.10L537.88 320.10L537.88 322.10L542.91 322.10L542.91 323.40L547.95 323.40L547.95 324.00L552.99 324.00L552.99 324.70L558.02 324.70L558.02 325.40L563.06 325.40L563.06 325.40L568.10 325.40L568.10 325.40L573.13 325.40L573.13 325.40L578.17 325.40L578.17 325.40L583.21 325.40L583.21 325.40L588.24 325.40L588.24 325.40L593.28 325.40L593.28 325.40L598.32 325.40L598.32 325.40L603.35 325.40L603.35 325.40L608.39 325.40L608.39 325.40L613.43 325.40L613.43 325.40L618.46 325.40L618.46 325.40L623.50 325.40L623.50 325.70" fill="none" stroke="#ff6a46" stroke-width="1.50" stroke-linejoin="miter"/><rect x="364.70" y="186.20" width="270.70" height="139.50" fill="none" stroke="#7a7a7a" stroke-width="1.1"/><line x1="364.74" y1="325.70" x2="364.74" y2="327.10" stroke="#7a7a7a" stroke-width="0.80"/><line x1="371.05" y1="325.70" x2="371.05" y2="327.10" stroke="#7a7a7a" stroke-width="0.80"/><line x1="413.85" y1="325.70" x2="413.85" y2="327.10" stroke="#7a7a7a" stroke-width="0.80"/><line x1="435.58" y1="325.70" x2="435.58" y2="327.10" stroke="#7a7a7a" stroke-width="0.80"/><line x1="450.99" y1="325.70" x2="450.99" y2="327.10" stroke="#7a7a7a" stroke-width="0.80"/><line x1="462.95" y1="325.70" x2="462.95" y2="327.10" stroke="#7a7a7a" stroke-width="0.80"/><line x1="472.72" y1="325.70" x2="472.72" y2="327.10" stroke="#7a7a7a" stroke-width="0.80"/><line x1="480.99" y1="325.70" x2="480.99" y2="327.10" stroke="#7a7a7a" stroke-width="0.80"/><line x1="488.14" y1="325.70" x2="488.14" y2="327.10" stroke="#7a7a7a" stroke-width="0.80"/><line x1="494.45" y1="325.70" x2="494.45" y2="327.10" stroke="#7a7a7a" stroke-width="0.80"/><line x1="537.25" y1="325.70" x2="537.25" y2="327.10" stroke="#7a7a7a" stroke-width="0.80"/><line x1="558.98" y1="325.70" x2="558.98" y2="327.10" stroke="#7a7a7a" stroke-width="0.80"/><line x1="574.39" y1="325.70" x2="574.39" y2="327.10" stroke="#7a7a7a" stroke-width="0.80"/><line x1="586.35" y1="325.70" x2="586.35" y2="327.10" stroke="#7a7a7a" stroke-width="0.80"/><line x1="596.12" y1="325.70" x2="596.12" y2="327.10" stroke="#7a7a7a" stroke-width="0.80"/><line x1="604.39" y1="325.70" x2="604.39" y2="327.10" stroke="#7a7a7a" stroke-width="0.80"/><line x1="611.54" y1="325.70" x2="611.54" y2="327.10" stroke="#7a7a7a" stroke-width="0.80"/><line x1="617.85" y1="325.70" x2="617.85" y2="327.10" stroke="#7a7a7a" stroke-width="0.80"/><line x1="376.70" y1="325.70" x2="376.70" y2="328.00" stroke="#7a7a7a" stroke-width="1.00"/><text x="374.40" y="337.50" font-size="9.20" text-anchor="middle" letter-spacing="0.30" fill="#262626" >10</text><text x="380.10" y="334.00" font-size="6.90" text-anchor="start" letter-spacing="0.10" fill="#262626" >1</text><line x1="500.10" y1="325.70" x2="500.10" y2="328.00" stroke="#7a7a7a" stroke-width="1.00"/><text x="497.80" y="337.50" font-size="9.20" text-anchor="middle" letter-spacing="0.30" fill="#262626" >10</text><text x="503.50" y="334.00" font-size="6.90" text-anchor="start" letter-spacing="0.10" fill="#262626" >2</text><line x1="623.50" y1="325.70" x2="623.50" y2="328.00" stroke="#7a7a7a" stroke-width="1.00"/><text x="621.20" y="337.50" font-size="9.20" text-anchor="middle" letter-spacing="0.30" fill="#262626" >10</text><text x="626.90" y="334.00" font-size="6.90" text-anchor="start" letter-spacing="0.10" fill="#262626" >3</text><line x1="362.40" y1="325.70" x2="364.70" y2="325.70" stroke="#7a7a7a" stroke-width="1.0"/><text x="359.20" y="329.30" font-size="9.20" text-anchor="end" letter-spacing="0.15" fill="#262626" >0.000</text><line x1="362.40" y1="307.47" x2="364.70" y2="307.47" stroke="#7a7a7a" stroke-width="1.0"/><text x="359.20" y="311.07" font-size="9.20" text-anchor="end" letter-spacing="0.15" fill="#262626" >0.002</text><line x1="362.40" y1="289.24" x2="364.70" y2="289.24" stroke="#7a7a7a" stroke-width="1.0"/><text x="359.20" y="292.84" font-size="9.20" text-anchor="end" letter-spacing="0.15" fill="#262626" >0.004</text><line x1="362.40" y1="271.02" x2="364.70" y2="271.02" stroke="#7a7a7a" stroke-width="1.0"/><text x="359.20" y="274.62" font-size="9.20" text-anchor="end" letter-spacing="0.15" fill="#262626" >0.006</text><line x1="362.40" y1="252.79" x2="364.70" y2="252.79" stroke="#7a7a7a" stroke-width="1.0"/><text x="359.20" y="256.39" font-size="9.20" text-anchor="end" letter-spacing="0.15" fill="#262626" >0.008</text><line x1="362.40" y1="234.56" x2="364.70" y2="234.56" stroke="#7a7a7a" stroke-width="1.0"/><text x="359.20" y="238.16" font-size="9.20" text-anchor="end" letter-spacing="0.15" fill="#262626" >0.010</text><line x1="362.40" y1="216.33" x2="364.70" y2="216.33" stroke="#7a7a7a" stroke-width="1.0"/><text x="359.20" y="219.93" font-size="9.20" text-anchor="end" letter-spacing="0.15" fill="#262626" >0.012</text><line x1="362.40" y1="198.10" x2="364.70" y2="198.10" stroke="#7a7a7a" stroke-width="1.0"/><text x="359.20" y="201.70" font-size="9.20" text-anchor="end" letter-spacing="0.15" fill="#262626" >0.014</text><text transform="translate(10.00 72.90) rotate(-90)" font-size="13.2" text-anchor="middle" letter-spacing="0.55" fill="#262626">Frequency</text><text transform="translate(341.00 72.90) rotate(-90)" font-size="13.2" text-anchor="middle" letter-spacing="0.55" fill="#262626">Frequency</text><text transform="translate(18.70 257.30) rotate(-90)" font-size="13.2" text-anchor="middle" letter-spacing="0.55" fill="#262626">Frequency</text><text transform="translate(330.70 257.60) rotate(-90)" font-size="13.2" text-anchor="middle" letter-spacing="0.55" fill="#262626">Frequency</text><text x="131.40" y="169.1" font-size="13.5" font-style="italic" fill="#262626">&#967;</text><text x="139.00" y="164.4" font-size="9.2" fill="#262626">2</text><text x="138.60" y="172.6" font-size="9.4" letter-spacing="0.36" fill="#262626">reduced, model</text><text x="468.30" y="169.1" font-size="13.5" font-style="italic" fill="#262626">&#967;</text><text x="475.90" y="164.4" font-size="9.2" fill="#262626">2</text><text x="475.50" y="172.6" font-size="9.4" letter-spacing="0.36" fill="#262626">reduced, flat</text><text transform="translate(162.2 351.9) scale(0.82 1)" font-size="14" font-style="italic" fill="#262626">&#960;</text><text x="169.7" y="353.5" font-size="9.4" font-style="italic" fill="#262626">E</text><text x="472.3" y="352.6" font-size="13.5" font-style="italic" fill="#262626">t</text><text x="477.0" y="355.2" font-size="9.4" font-style="italic" fill="#262626">E</text><text x="487.8" y="352.6" font-size="13.2" letter-spacing="0.65" fill="#262626">(days)</text><rect x="491.7" y="6.6" width="139.2" height="44.6" rx="2" ry="2" fill="#ffffff" fill-opacity="0.8" stroke="#dcdcdc" stroke-width="1"/><rect x="495.3" y="10.90" width="18.3" height="6.1" fill="none" stroke="#8a1c9d" stroke-width="1.5"/><text x="520.70" y="16.60" font-size="9.20" text-anchor="start" letter-spacing="0.43" fill="#262626" >ZTF Candidates Level 3</text><rect x="495.3" y="24.65" width="18.3" height="6.1" fill="none" stroke="#1a7f8b" stroke-width="1.5"/><text x="520.70" y="30.35" font-size="9.20" text-anchor="start" letter-spacing="0.43" fill="#262626" >ZTF Candidates Level 4</text><rect x="495.3" y="38.40" width="18.3" height="6.1" fill="none" stroke="#ff6a46" stroke-width="1.5"/><text x="520.70" y="44.10" font-size="9.20" text-anchor="start" letter-spacing="0.43" fill="#262626" >Simulated <tspan font-style="italic" letter-spacing="1.2">&#956;</tspan>-lens</text></svg></body></html>
